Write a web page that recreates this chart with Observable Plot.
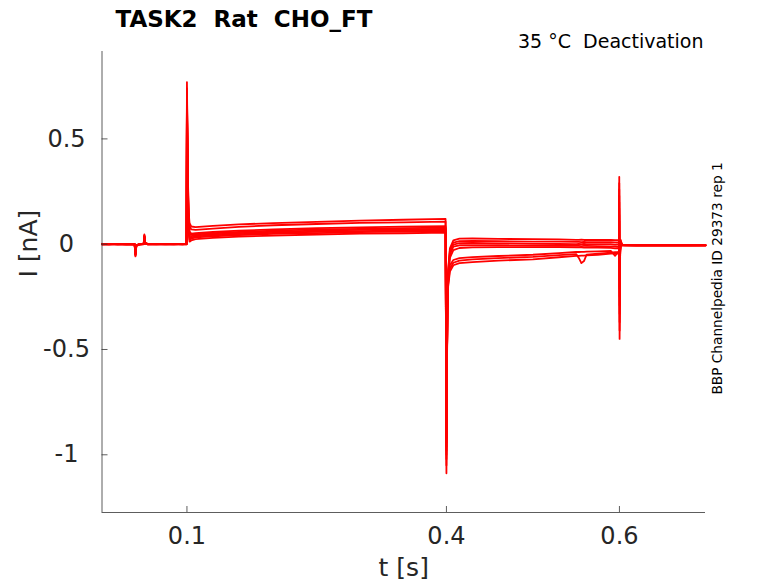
<!DOCTYPE html>
<html><head><meta charset="utf-8">
<script src="https://cdn.jsdelivr.net/npm/d3@7"></script>
<script src="https://cdn.jsdelivr.net/npm/@observablehq/plot@0.6"></script>
<style>body{margin:0;background:#fff} svg text{white-space:pre}</style>
</head><body><div id="chart"></div><script>
const titleText = "TASK2  Rat  CHO_FT";
const subtitleText = "35 °C  Deactivation";
const sideText = "BBP Channelpedia ID 29373 rep 1";
const xLabel = "t [s]";
const yLabel = "I [nA]";
const xTicks = [0.1, 0.4, 0.6];
const xTickLabels = ["0.1", "0.4", "0.6"];
const yTicks = [0.5, 0, -0.5, -1];
const yTickLabels = ["0.5", "0", "-0.5", "-1"];
const xDomain = [0.0018, 0.6995];
const yDomain = [-1.274, 0.915];

// sample times (s)
const timesA = [0.002, 0.01, 0.02, 0.03, 0.0395, 0.0405, 0.0415, 0.045, 0.05, 0.0508, 0.0518, 0.055, 0.065, 0.075, 0.085, 0.095, 0.0995];
const timesB = [0.1, 0.1006, 0.1012, 0.102, 0.103, 0.105, 0.11, 0.13, 0.16, 0.2, 0.25, 0.3, 0.35, 0.399];
const timesC = [0.4, 0.4006, 0.4012, 0.402, 0.404, 0.408, 0.415, 0.43, 0.46, 0.5, 0.53, 0.55, 0.553, 0.556, 0.559, 0.562, 0.575, 0.59, 0.595, 0.5995];
const timesD = [0.5998, 0.6002, 0.6008, 0.6015, 0.603, 0.62, 0.65, 0.68, 0.6995];

// current (nA) per sweep, holding segment
const holdA = [
  [0.001, -0.002, 0.002, 0.000, 0.001, -0.058, -0.008, -0.002, 0.002, 0.046, 0.006, 0.001, -0.001, 0.002, 0.000, 0.001, 0.000],
  [-0.001, 0.001, -0.001, 0.002, 0.000, -0.055, -0.006, 0.000, 0.001, 0.043, 0.005, -0.001, 0.001, 0.000, 0.002, -0.001, 0.001],
  [0.002, 0.000, 0.001, -0.002, -0.001, -0.052, -0.007, -0.001, 0.000, 0.040, 0.004, 0.002, 0.000, -0.001, 0.001, 0.002, -0.001],
  [0.000, 0.002, -0.002, 0.001, 0.002, -0.050, -0.005, 0.001, -0.001, 0.038, 0.006, 0.000, 0.002, 0.001, -0.002, 0.000, 0.001],
  [-0.002, 0.001, 0.000, -0.001, 0.000, -0.048, -0.006, -0.002, 0.001, 0.036, 0.003, 0.001, -0.002, 0.000, 0.001, -0.002, 0.000],
  [0.001, -0.001, 0.002, 0.001, -0.002, -0.046, -0.004, 0.000, 0.002, 0.035, 0.005, -0.002, 0.001, 0.002, 0.000, 0.001, 0.002],
  [0.000, 0.000, -0.001, 0.002, 0.001, -0.045, -0.005, 0.001, 0.000, 0.034, 0.004, 0.001, 0.000, -0.002, 0.001, 0.000, -0.001],
  [-0.001, 0.002, 0.001, -0.002, 0.000, -0.044, -0.006, -0.001, 0.001, 0.033, 0.002, 0.000, 0.001, 0.001, -0.001, 0.002, 0.000]
];
// activation step
const stepB = [
  [0.77, 0.52, 0.30, 0.15, 0.10, 0.084, 0.081, 0.087, 0.094, 0.100, 0.106, 0.112, 0.116, 0.120],
  [0.74, 0.50, 0.28, 0.13, 0.085, 0.070, 0.068, 0.074, 0.082, 0.090, 0.096, 0.101, 0.104, 0.107],
  [0.72, 0.48, 0.26, 0.11, 0.060, 0.050, 0.052, 0.058, 0.064, 0.070, 0.076, 0.080, 0.083, 0.086],
  [0.70, 0.46, 0.25, 0.10, 0.050, 0.044, 0.047, 0.052, 0.058, 0.064, 0.070, 0.073, 0.076, 0.079],
  [0.69, 0.45, 0.24, 0.09, 0.040, 0.038, 0.042, 0.047, 0.053, 0.059, 0.064, 0.068, 0.071, 0.073],
  [0.67, 0.43, 0.22, 0.08, 0.030, 0.032, 0.037, 0.042, 0.048, 0.054, 0.059, 0.062, 0.065, 0.067],
  [0.66, 0.42, 0.21, 0.07, 0.020, 0.026, 0.032, 0.037, 0.043, 0.049, 0.053, 0.057, 0.060, 0.062],
  [0.64, 0.40, 0.20, 0.06, 0.012, 0.018, 0.024, 0.030, 0.036, 0.041, 0.046, 0.050, 0.052, 0.055]
];
// deactivation step
const tailC = [
  [-1.088, -0.60, -0.30, -0.12, -0.020, 0.018, 0.026, 0.027, 0.025, 0.024, 0.023, 0.021, 0.021, 0.022, 0.020, 0.020, 0.021, 0.020, 0.019, 0.020],
  [-1.05, -0.58, -0.29, -0.13, -0.030, 0.008, 0.015, 0.016, 0.014, 0.012, 0.012, 0.011, 0.011, 0.010, 0.011, 0.010, 0.010, 0.010, 0.009, 0.010],
  [-1.02, -0.57, -0.28, -0.14, -0.040, -0.002, 0.005, 0.006, 0.004, 0.002, 0.001, 0.000, 0.001, 0.000, 0.001, 0.000, 0.000, 0.000, -0.002, 0.000],
  [-1.00, -0.56, -0.28, -0.15, -0.050, -0.012, -0.005, -0.004, -0.005, -0.007, -0.008, -0.008, -0.008, -0.009, -0.008, -0.008, -0.009, -0.010, -0.011, -0.010],
  [-0.98, -0.55, -0.29, -0.16, -0.065, -0.028, -0.018, -0.015, -0.014, -0.014, -0.014, -0.015, -0.015, -0.015, -0.016, -0.015, -0.016, -0.017, -0.020, -0.018],
  [-0.96, -0.55, -0.30, -0.18, -0.100, -0.075, -0.066, -0.061, -0.056, -0.050, -0.042, -0.037, -0.037, -0.036, -0.036, -0.035, -0.034, -0.032, -0.055, -0.034],
  [-0.94, -0.54, -0.30, -0.19, -0.115, -0.088, -0.078, -0.072, -0.066, -0.060, -0.052, -0.047, -0.065, -0.090, -0.080, -0.050, -0.045, -0.040, -0.038, -0.038],
  [-0.92, -0.54, -0.31, -0.20, -0.130, -0.100, -0.090, -0.085, -0.078, -0.072, -0.062, -0.055, -0.055, -0.054, -0.054, -0.053, -0.050, -0.045, -0.043, -0.042]
];
// return to holding
const holdD = [
  [0.32, -0.45, -0.06, 0.020, -0.004, -0.005, -0.004, -0.006, -0.005],
  [0.29, -0.41, -0.05, 0.015, -0.003, -0.004, -0.005, -0.004, -0.006],
  [0.26, -0.37, -0.04, 0.012, -0.004, -0.006, -0.004, -0.005, -0.004],
  [0.23, -0.33, -0.035, 0.010, -0.005, -0.004, -0.006, -0.004, -0.005],
  [0.20, -0.29, -0.03, 0.008, -0.004, -0.005, -0.004, -0.006, -0.005],
  [0.17, -0.25, -0.03, 0.006, -0.006, -0.004, -0.005, -0.005, -0.004],
  [0.14, -0.21, -0.025, 0.005, -0.005, -0.006, -0.004, -0.004, -0.006],
  [0.11, -0.17, -0.02, 0.004, -0.004, -0.005, -0.006, -0.005, -0.005]
];

const times = [...timesA, ...timesB, ...timesC, ...timesD];
const rows = [];
holdA.forEach((_, k) => {
  const vals = [...holdA[k], ...stepB[k], ...tailC[k], ...holdD[k]];
  vals.forEach((v, j) => rows.push({trace: k, t: times[j], i: v}));
});

const axisColor = "#333333";
const textColor = "#262626";

const chart = Plot.plot({
  width: 778, height: 583,
  marginLeft: 101.5, marginRight: 73, marginTop: 51, marginBottom: 71,
  style: {fontFamily: "DejaVu Sans", background: "#fff", color: textColor, overflow: "visible"},
  x: {domain: xDomain},
  y: {domain: yDomain},
  marks: [
    Plot.line(rows, {x: "t", y: "i", z: "trace", stroke: "#ff0000", strokeWidth: 1.8, strokeLinejoin: "round"}),
    Plot.ruleX([xDomain[0]], {stroke: axisColor, strokeWidth: 0.8}),
    Plot.ruleY([yDomain[0]], {stroke: axisColor, strokeWidth: 0.8}),
    Plot.axisY({ticks: yTicks, tickSize: -6, tickFormat: () => "", label: null, stroke: axisColor, strokeWidth: 0.8}),
    Plot.axisX({ticks: xTicks, tickSize: -6, tickFormat: () => "", label: null, stroke: axisColor, strokeWidth: 0.8}),
    Plot.text(yTicks, {y: d => d, text: (d, i) => yTickLabels[i], frameAnchor: "left", dx: -35.5, textAnchor: "middle", fontSize: 24, fill: textColor}),
    Plot.text(xTicks, {x: d => d, text: (d, i) => xTickLabels[i], frameAnchor: "bottom", lineAnchor: "bottom", dy: 31, fontSize: 24, fill: textColor}),
    Plot.text([xLabel], {frameAnchor: "bottom", lineAnchor: "bottom", dy: 63, fontSize: 25, fill: textColor}),
    Plot.text([yLabel], {frameAnchor: "left", rotate: -90, lineAnchor: "bottom", dx: -64.8, dy: -4.5, fontSize: 25, fill: textColor}),
    Plot.text([titleText], {frameAnchor: "top-left", lineAnchor: "bottom", textAnchor: "start", dx: 13.5, dy: -24.3, fontSize: 23, fontWeight: "bold", fill: "#000"}),
    Plot.text([subtitleText], {frameAnchor: "top-right", lineAnchor: "bottom", textAnchor: "end", dx: -2, dy: -3.5, fontSize: 19, fill: "#000"}),
    Plot.text([sideText], {frameAnchor: "right", rotate: -90, lineAnchor: "bottom", textAnchor: "middle", dx: 16.5, dy: -3.5, fontSize: 13.7, fill: "#000"})
  ]
});
document.getElementById("chart").appendChild(chart);
</script></body></html>
